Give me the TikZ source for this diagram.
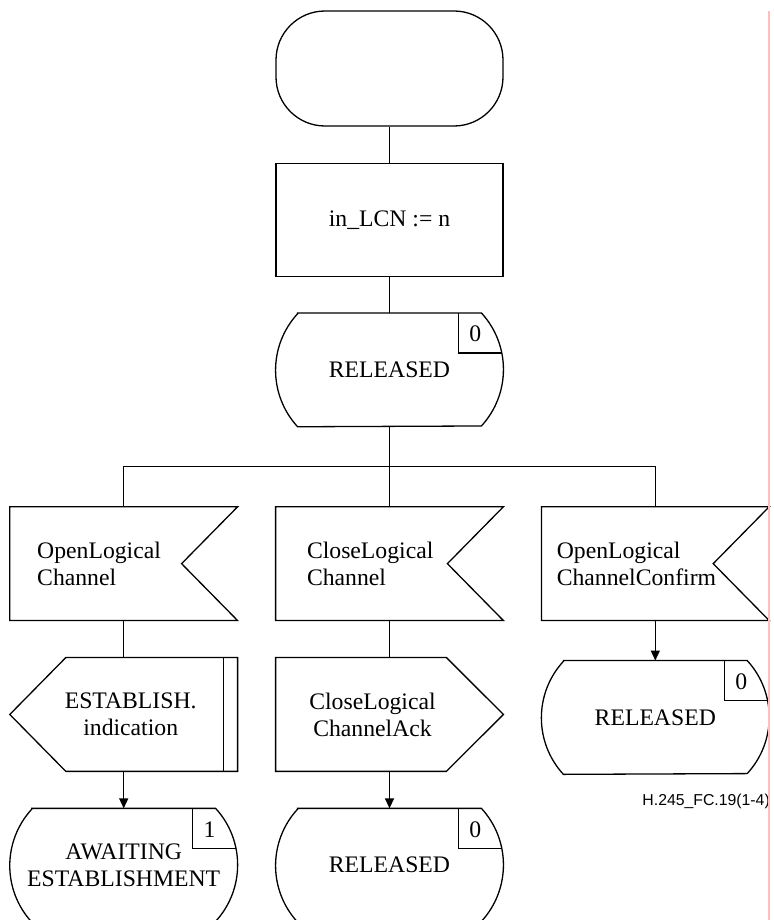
\documentclass[tikz,border=0pt]{standalone}
\usepackage{fontspec}
\setmainfont{Liberation Serif}
\newfontfamily\figidfont{Liberation Sans}
\usetikzlibrary{positioning, arrows.meta, calc}

\begin{document}
\begin{tikzpicture}[
		node distance=18pt and 19pt,
		every node/.style={font=\fontsize{11.85}{13.5}\selectfont},
		sdlline/.style={line width=0.65pt},
		arrow/.style={sdlline, -{Triangle[width=4.5pt, length=5pt]}},
		shapebase/.style={rectangle, minimum width=113.5pt, minimum height=56.5pt, inner sep=0pt, align=center},
		termbox/.style={shapebase, draw, sdlline, minimum height=57.5pt, rounded corners=24.5pt},
		taskbox/.style={shapebase, draw, sdlline},
		statebox/.style={shapebase,
			append after command={\pgfextra{
				\draw[sdlline] ($(\tikzlastnode.north west)+(11pt,0)$) -- ($(\tikzlastnode.north east)+(-11pt,0)$)
					arc[start angle=42.6, end angle=-42.6, radius=41.75pt]
					-- ($(\tikzlastnode.south west)+(11pt,0)$)
					arc[start angle=222.6, end angle=137.4, radius=41.75pt] -- cycle;
				\draw[sdlline] ($(\tikzlastnode.north east)+(-22.5pt,0)$) |- ($(\tikzlastnode.north east)+(-0.8pt,-20pt)$);
				\node at ($(\tikzlastnode.north east)+(-14pt,-10.5pt)$) {#1};
			}}},
		inbox/.style={shapebase, text width=#1, align=left,
			append after command={\pgfextra{
				\draw[sdlline] (\tikzlastnode.north west) -- (\tikzlastnode.north east)
					-- ($(\tikzlastnode.east)+(-28pt,0)$) -- (\tikzlastnode.south east)
					-- (\tikzlastnode.south west) -- cycle;
			}}},
		outleft/.style={shapebase,
			append after command={\pgfextra{
				\draw[sdlline] ($(\tikzlastnode.north west)+(28pt,0)$) -- (\tikzlastnode.north east)
					-- (\tikzlastnode.south east) -- ($(\tikzlastnode.south west)+(28pt,0)$)
					-- (\tikzlastnode.west) -- cycle;
				\draw[sdlline] ($(\tikzlastnode.north east)+(-7pt,0)$) -- ($(\tikzlastnode.south east)+(-7pt,0)$);
			}}},
		outright/.style={shapebase,
			append after command={\pgfextra{
				\draw[sdlline] (\tikzlastnode.north west) -- ($(\tikzlastnode.north east)+(-28.5pt,0)$)
					-- (\tikzlastnode.east) -- ($(\tikzlastnode.south east)+(-28.5pt,0)$)
					-- (\tikzlastnode.south west) -- cycle;
			}}},
		figid/.style={inner sep=0pt, font=\figidfont\fontsize{7.9}{9}\selectfont}
		]

		\useasboundingbox (0,0) rectangle (387pt,-460pt);

		\node[termbox] (init) at (194.75pt,-34.25pt) {};
		\node[taskbox, below=of init] (assign) {in\_LCN := n};
		\node[statebox=0, below=of assign] (st0) {RELEASED};

		\node[inbox=82.5pt, below=40pt of st0] (in2) {CloseLogical\\Channel};
		\node[inbox=86.5pt, left=of in2] (in1) {OpenLogical\\Channel};
		\node[inbox=98.5pt, right=of in2] (in3) {OpenLogical\\ChannelConfirm};

		\node[outleft, below=18.5pt of in1, label={[xshift=3.5pt, align=center]center:{ESTABLISH.\\indication}}] (out1) {};
		\node[outright, below=18.5pt of in2, label={[xshift=-8.5pt, align=center]center:{CloseLogical\\ChannelAck}}] (out2) {};

		\node[statebox=1, below=18.5pt of out1] (st1) {AWAITING\\ESTABLISHMENT};
		\node[statebox=0, below=18.5pt of out2] (st2) {RELEASED};
		\node[statebox=0, below=20pt of in3] (st3) {RELEASED};

		\node[figid, below left=9.5pt and -0.5pt of st3.south east] (figref) {H.245\_FC.19(1-4)};

		\coordinate (fork) at ($(st0.south)!0.5!(in2.north)$);

		\draw[sdlline] (init) -- (assign);
		\draw[sdlline] (assign) -- (st0);
		\draw[sdlline] (st0) -- (in2);
		\draw[sdlline] (in1.north) |- (fork) -| (in3.north);

		\draw[sdlline] (in1) -- (out1);
		\draw[arrow] (out1) -- (st1);
		\draw[sdlline] (in2) -- (out2);
		\draw[arrow] (out2) -- (st2);
		\draw[arrow] (in3) -- (st3);

		\draw[red!25, line width=0.6pt] (384.5pt,-5.5pt) -- (384.5pt,-460pt);
	\end{tikzpicture}
\end{document}
